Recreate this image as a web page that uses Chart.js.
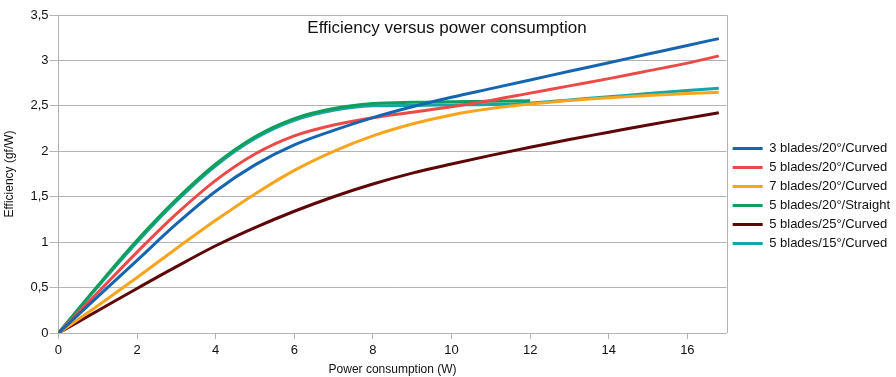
<!DOCTYPE html>
<html><head><meta charset="utf-8">
<script src="https://cdn.jsdelivr.net/npm/chart.js@4/dist/chart.umd.min.js"></script>
<style>html,body{margin:0;padding:0;background:#fff}#wrap{width:896px;height:377px;position:relative}</style>
</head><body><div id="wrap"><canvas id="c"></canvas></div>
<script>
const chartTitle = "Efficiency versus power consumption";
const xAxisTitle = "Power consumption (W)";
const yAxisTitle = "Efficiency (gf/W)";
const seriesNames = ["3 blades/20°/Curved","5 blades/20°/Curved","7 blades/20°/Curved","5 blades/20°/Straight","5 blades/25°/Curved","5 blades/15°/Curved"];
const powerW = [0,1,2,3,4,5,6,7,8,9,10,11,12,13,14,15,16,16.8];
const blades3_20_curved = [0,0.40,0.80,1.20,1.56,1.85,2.07,2.23,2.37,2.49,2.595,2.69,2.785,2.88,2.975,3.07,3.165,3.24];
const blades5_20_curved = [0,0.445,0.89,1.31,1.68,1.97,2.17,2.29,2.37,2.43,2.49,2.56,2.64,2.72,2.80,2.885,2.97,3.05];
const blades7_20_curved = [0,0.30,0.61,0.93,1.24,1.53,1.79,2.00,2.17,2.30,2.40,2.47,2.52,2.56,2.59,2.615,2.635,2.65];
const blades5_20_straight = [0,0.52,1.02,1.47,1.86,2.16,2.36,2.47,2.525,2.54,2.545,2.55,2.555];
const blades5_25_curved = [0,0.245,0.49,0.73,0.96,1.16,1.34,1.50,1.64,1.76,1.86,1.955,2.045,2.13,2.21,2.29,2.365,2.425];
const blades5_15_curved = [0,0.51,1.00,1.45,1.84,2.14,2.34,2.45,2.50,2.505,2.51,2.515,2.53,2.565,2.60,2.635,2.67,2.695];
const xTickValues = [0,2,4,6,8,10,12,14,16];
const seriesColors = ["#1565b0","#ec4a48","#f8a51d","#0f9f5b","#5e0508","#17a4a4"];

const allSeries = [blades3_20_curved,blades5_20_curved,blades7_20_curved,blades5_20_straight,blades5_25_curved,blades5_15_curved];
const datasets = allSeries.map((ys,i)=>({
  label: seriesNames[i],
  data: ys.map((y,j)=>({x: powerW[j], y: y})),
  borderColor: seriesColors[i],
  backgroundColor: seriesColors[i],
  borderWidth: 3,
  pointRadius: 0,
  cubicInterpolationMode: 'monotone',
  fill: false
}));

const insideTitle = {
  id: 'insideTitle',
  afterDraw(chart){
    const ctx = chart.ctx;
    ctx.save();
    ctx.font = '17px "Liberation Sans", Arial, sans-serif';
    ctx.fillStyle = '#111';
    ctx.textAlign = 'center';
    ctx.textBaseline = 'middle';
    ctx.fillText(chartTitle, 447, 28);
    ctx.restore();
  }
};
const frame = {
  id: 'frame',
  beforeDatasetsDraw(chart){
    const a = chart.chartArea, ctx = chart.ctx;
    ctx.save();
    ctx.strokeStyle = '#b3b3b3';
    ctx.lineWidth = 1;
    ctx.beginPath();
    ctx.moveTo(Math.round(a.right)+0.5, a.top);
    ctx.lineTo(Math.round(a.right)+0.5, a.bottom);
    ctx.stroke();
    ctx.restore();
  }
};

Chart.defaults.font.family = '"Liberation Sans", Arial, sans-serif';
Chart.defaults.color = '#111';

new Chart(document.getElementById('c'), {
  type: 'line',
  data: { datasets },
  plugins: [insideTitle, frame],
  options: {
    responsive: true,
    maintainAspectRatio: false,
    animation: false,
    layout: { padding: { left: 2, right: -4, top: 15, bottom: 0 } },
    plugins: {
      title: { display: false },
      tooltip: { enabled: false },
      legend: {
        position: 'right',
        align: 'center',
        labels: {
          boxWidth: 30, boxHeight: 3, padding: 6,
          font: { size: 13 }, color: '#111',
          generateLabels(chart){
            const items = Chart.defaults.plugins.legend.labels.generateLabels(chart);
            items.forEach(it=>{ it.lineWidth = 0; it.fillStyle = it.strokeStyle; });
            return items;
          }
        }
      }
    },
    scales: {
      x: {
        type: 'linear', min: 0, max: 17,
        ticks: { stepSize: 2, includeBounds: false, font: { size: 13 }, color: '#111', padding: 4 },
        afterBuildTicks(scale){ scale.ticks = xTickValues.map(v=>({value:v})); },
        grid: { drawOnChartArea: false, drawTicks: true, tickLength: 6, color: '#b3b3b3' },
        border: { color: '#b3b3b3' },
        title: { display: true, text: xAxisTitle, font: { size: 12 }, color: '#111', padding: { top: 0, bottom: 0 } }
      },
      y: {
        min: 0, max: 3.5,
        ticks: { stepSize: 0.5, font: { size: 13 }, color: '#111', padding: 1,
          callback: v => String(v).replace('.', ',') },
        grid: { color: '#b3b3b3', tickLength: 9 },
        border: { color: '#b3b3b3' },
        title: { display: true, text: yAxisTitle, font: { size: 12 }, color: '#111', padding: { top: 0, bottom: 13 } }
      }
    }
  }
});
</script>
</body></html>
